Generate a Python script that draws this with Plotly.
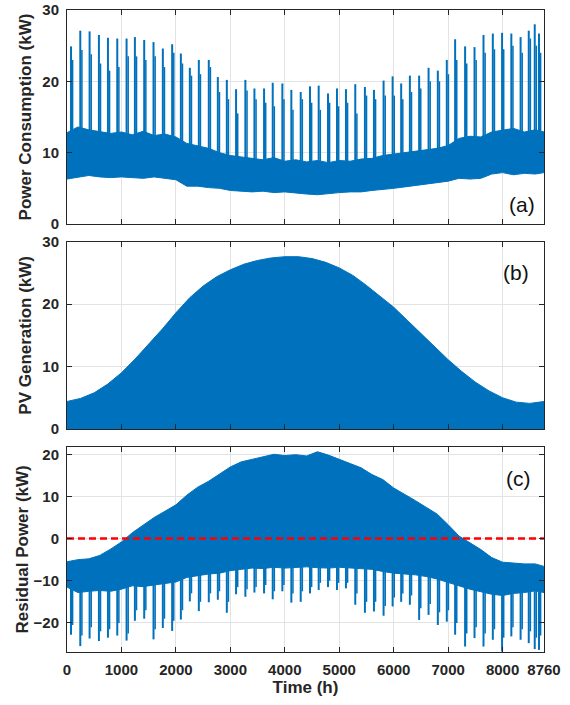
import plotly.graph_objects as go

# ---------------- data ----------------
# envelope sample times (h)
ENV_T = [0, 200, 400, 600, 800, 1000, 1200, 1400, 1600, 1800, 2000, 2200, 2400,
         2600, 2800, 3000, 3200, 3400, 3600, 3800, 4000, 4200, 4400, 4600, 4800,
         5000, 5200, 5400, 5600, 5800, 6000, 6200, 6400, 6600, 6800, 7000, 7200,
         7400, 7600, 7800, 8000, 8200, 8400, 8600, 8760]

# (a) power consumption: dense band (kW)
LOAD_LOW = [6.3, 6.5, 6.8, 6.6, 6.5, 6.6, 6.5, 6.4, 6.6, 6.4, 6.2, 5.3, 5.3,
            5.1, 5.0, 4.7, 4.6, 4.5, 4.6, 4.4, 4.5, 4.3, 4.2, 4.1, 4.3,
            4.4, 4.5, 4.5, 4.7, 4.8, 5.0, 5.2, 5.4, 5.6, 5.8, 6.0, 6.4,
            6.3, 6.4, 7.0, 7.2, 6.9, 7.1, 7.0, 7.2]
LOAD_HIGH = [12.8, 13.6, 13.2, 13.0, 12.7, 12.9, 12.5, 13.0, 12.4, 12.6, 12.2, 11.3, 11.0,
             10.6, 10.0, 9.6, 9.4, 9.2, 9.0, 9.3, 8.8, 9.0, 8.7, 8.9, 8.6,
             8.9, 8.8, 9.1, 9.2, 9.6, 9.8, 10.0, 10.1, 10.4, 10.6, 11.0, 12.0,
             12.3, 12.2, 12.9, 13.1, 13.4, 12.9, 13.2, 12.9]

# weekly peak events (h)
SPIKE_T = [73, 244, 415, 586, 752, 923, 1094, 1247, 1418, 1589,
           1760, 1931, 2091, 2256, 2421, 2604, 2770, 2935, 3105, 3276,
           3442, 3619, 3778, 3955, 4120, 4292, 4463, 4622, 4793, 4958,
           5123, 5294, 5471, 5637, 5814, 5980, 6137, 6297, 6467, 6640,
           6810, 6975, 7128, 7311, 7484, 7649, 7820, 7990, 8160, 8330,
           8480, 8590, 8668]
LOAD_PEAK = [24.9, 27.1, 27.0, 26.5, 26.1, 26.0, 26.0, 26.2, 25.8, 25.5,
             24.6, 25.2, 23.9, 21.9, 23.0, 23.0, 20.6, 20.2, 18.9, 20.2,
             19.0, 19.0, 19.8, 19.7, 18.8, 18.5, 19.3, 19.4, 18.3, 19.0,
             18.9, 19.6, 19.2, 18.8, 20.1, 20.7, 19.7, 20.8, 20.8, 21.9,
             21.5, 23.0, 25.9, 24.9, 24.8, 26.5, 26.7, 26.8, 26.7, 26.2,
             27.1, 28.0, 26.7]
LOAD_PEAK2 = [23.0, 24.4, 23.8, 22.5, 21.5, 22.0, 23.5, 23.5, 23.0, 23.5,
              22.0, 24.0, 22.5, 20.8, 21.0, 22.0, 18.5, 17.5, 15.5, 18.7,
              17.5, 17.0, 16.5, 17.5, 16.0, 17.5, 17.0, 16.0, 17.0, 16.5,
              17.0, 15.5, 18.0, 17.5, 18.0, 18.0, 17.5, 18.5, 19.0, 20.0,
              20.0, 21.0, 23.0, 22.5, 23.0, 24.0, 24.5, 24.5, 25.0, 24.0,
              26.0, 25.0, 24.0]

# (b) PV generation envelope (kW)
PV_T = [0, 250, 500, 750, 1000, 1250, 1500, 1750, 2000, 2250, 2500, 2750,
        3000, 3250, 3500, 3750, 4000, 4250, 4500, 4750, 5000, 5250, 5500,
        5750, 6000, 6250, 6500, 6750, 7000, 7250, 7500, 7750, 8000, 8250,
        8500, 8760]
PV_MAX = [4.4, 4.9, 5.8, 7.2, 9.0, 11.2, 13.6, 16.0, 18.6, 21.0, 22.9, 24.4,
          25.5, 26.4, 27.0, 27.4, 27.6, 27.6, 27.3, 26.7, 25.8, 24.6, 23.0,
          21.3, 19.5, 17.4, 15.3, 13.1, 11.1, 9.2, 7.5, 6.1, 5.0, 4.3,
          4.1, 4.4]

# (c) residual power: dense band (kW)
RES_HIGH = [-5.5, -5.0, -4.8, -4.0, -2.5, -0.8, 1.4, 3.2, 5.0, 6.5, 8.0, 10.3, 12.2,
            13.6, 15.3, 17.0, 18.2, 18.8, 19.5, 20.0, 19.7, 19.9, 19.6, 20.6, 19.8,
            18.8, 17.8, 16.8, 15.2, 14.0, 12.0, 10.6, 9.0, 7.4, 5.8, 3.3, 0.6,
            -1.0, -2.6, -4.5, -5.6, -5.8, -6.0, -6.0, -6.6]
RES_LOW = [-11.5, -12.8, -12.5, -12.3, -12.5, -12.0, -11.2, -11.4, -11.0, -10.6, -10.3, -9.2, -8.8,
           -8.4, -8.2, -7.6, -7.3, -7.0, -7.1, -6.8, -7.0, -6.8, -6.7, -6.9, -7.0,
           -6.8, -7.0, -7.2, -7.3, -7.8, -8.2, -8.4, -8.6, -9.0, -9.6, -10.4, -11.2,
           -12.0, -12.6, -13.2, -13.5, -13.0, -12.8, -12.4, -12.8]
RES_DIP = [-22.8, -25.5, -23.7, -24.3, -23.5, -23.0, -24.2, -19.5, -19.0, -23.9,
           -21.2, -21.9, -19.2, -14.9, -17.2, -15.1, -14.5, -17.6, -13.2, -13.8,
           -12.8, -13.0, -14.4, -12.5, -15.2, -15.0, -13.0, -12.2, -11.5, -12.2,
           -11.8, -15.7, -17.6, -17.3, -18.3, -16.1, -15.0, -15.7, -19.3, -18.1,
           -20.5, -19.7, -22.8, -25.6, -23.6, -25.6, -24.0, -26.8, -23.2, -24.0,
           -24.8, -26.2, -26.4]
RES_DIP2 = [-20.5, -23.0, -21.0, -22.0, -21.5, -20.0, -22.5, -17.0, -17.0, -21.5,
            -19.0, -19.5, -17.0, -13.0, -15.0, -13.0, -12.5, -15.0, -11.5, -12.0,
            -11.5, -11.0, -12.5, -11.0, -13.0, -12.5, -11.5, -10.5, -10.0, -10.5,
            -10.5, -13.0, -15.0, -15.0, -16.0, -14.0, -13.0, -13.5, -16.5, -15.5,
            -17.5, -17.0, -20.0, -22.5, -21.0, -22.5, -21.5, -23.5, -21.0, -21.5,
            -22.0, -23.5, -23.0]

ZERO_X = [0, 8760]
ZERO_Y = [0, 0]

X_TICKS = [0, 1000, 2000, 3000, 4000, 5000, 6000, 7000, 8000, 8760]

# ---------------- styling ----------------
BLUE = "#0072BD"
AX = "#262626"
GRID = "#e3e3e3"
FONT = "Liberation Sans, Arial, sans-serif"
SPIKE_BASE_A = 8.0
SPIKE_BASE_C = -6.5
PAIR_GAP = 30  # h between the two lines of a peak event

fig = go.Figure()


def add_band(xa, ya, lo, hi):
    fig.add_trace(go.Scatter(x=ENV_T, y=lo, xaxis=xa, yaxis=ya, mode="lines",
                             line=dict(color=BLUE, width=1), hoverinfo="skip",
                             showlegend=False))
    fig.add_trace(go.Scatter(x=ENV_T, y=hi, xaxis=xa, yaxis=ya, mode="lines",
                             line=dict(color=BLUE, width=1), fill="tonexty",
                             fillcolor=BLUE, hoverinfo="skip", showlegend=False))


def add_spikes(xa, ya, times, tips, base, shift, width):
    xs, ys = [], []
    for t, v in zip(times, tips):
        xs += [t + shift, t + shift, None]
        ys += [base, v, None]
    fig.add_trace(go.Scatter(x=xs, y=ys, xaxis=xa, yaxis=ya, mode="lines",
                             line=dict(color=BLUE, width=width), hoverinfo="skip",
                             showlegend=False, connectgaps=False))


# (a)
add_band("x", "y", LOAD_LOW, LOAD_HIGH)
add_spikes("x", "y", SPIKE_T, LOAD_PEAK2, SPIKE_BASE_A, PAIR_GAP, 1.5)
add_spikes("x", "y", SPIKE_T, LOAD_PEAK, SPIKE_BASE_A, 0, 2.0)

# (b)
fig.add_trace(go.Scatter(x=PV_T, y=PV_MAX, xaxis="x2", yaxis="y2", mode="lines",
                         line=dict(color=BLUE, width=1), fill="tozeroy",
                         fillcolor=BLUE, hoverinfo="skip", showlegend=False))

# (c)
add_band("x3", "y3", RES_LOW, RES_HIGH)
add_spikes("x3", "y3", SPIKE_T, RES_DIP2, SPIKE_BASE_C, PAIR_GAP, 1.5)
add_spikes("x3", "y3", SPIKE_T, RES_DIP, SPIKE_BASE_C, 0, 2.0)
fig.add_trace(go.Scatter(x=ZERO_X, y=ZERO_Y, xaxis="x3", yaxis="y3", mode="lines",
                         line=dict(color="#ff0000", width=2.5, dash="7px,4px"),
                         hoverinfo="skip", showlegend=False))

tickfont = dict(family=FONT, size=15, color=AX, weight="bold")
titlefont = dict(family=FONT, size=17, color=AX, weight="bold")


def xaxis(anchor, labels):
    return dict(domain=[0, 1], anchor=anchor, range=[0, 8760], tickvals=X_TICKS,
                ticktext=[str(v) for v in X_TICKS], showticklabels=labels,
                showgrid=True, gridcolor=GRID, gridwidth=1, zeroline=False,
                showline=True, linecolor=AX, linewidth=1, mirror="ticks",
                ticks="inside", ticklen=5, tickcolor=AX, tickfont=tickfont,
                automargin=False)


def yaxis(anchor, dom, rng, ticks, title, standoff):
    return dict(domain=dom, anchor=anchor, range=rng, tickvals=ticks,
                showgrid=True, gridcolor=GRID, gridwidth=1, zeroline=False,
                showline=True, linecolor=AX, linewidth=1, mirror="ticks",
                ticks="inside", ticklen=5, tickcolor=AX, tickfont=tickfont,
                ticklabelstandoff=4, automargin=False,
                title=dict(text=title, font=titlefont, standoff=standoff))


x3 = xaxis("y3", True)
x3["title"] = dict(text="Time (h)", font=titlefont, standoff=2)
x3["ticklabelstandoff"] = 4

LABEL_FONT = dict(family=FONT, size=21, color="#111111")

fig.update_layout(
    width=570, height=705,
    margin=dict(l=67, r=26, t=10, b=53),
    paper_bgcolor="white", plot_bgcolor="white",
    font=dict(family=FONT, color=AX),
    xaxis=xaxis("y", False),
    xaxis2=xaxis("y2", False),
    xaxis3=x3,
    yaxis=yaxis("x", [0.6667, 1.0], [0, 30], [0, 10, 20, 30],
                "Power Consumption (kW)", 6),
    yaxis2=yaxis("x2", [0.3474, 0.6391], [0, 30], [0, 10, 20, 30],
                 "PV Generation (kW)", 6),
    yaxis3=yaxis("x3", [0.0, 0.3198], [-26.9, 21.8], [-20, -10, 0, 10, 20],
                 "Residual Power (kW)", 0),
    shapes=[
        dict(type="rect", xref="x2", yref="y2", x0=7900, x1=8760,
             y0=22.8, y1=30, fillcolor="white", line=dict(width=0), layer="below"),
        dict(type="rect", xref="x3", yref="y3", x0=7900, x1=8760,
             y0=10.8, y1=21.8, fillcolor="white", line=dict(width=0), layer="below"),
    ],
    annotations=[
        dict(text="(a)", xref="x domain", yref="y domain", x=0.953, y=0.093,
             xanchor="center", yanchor="middle", showarrow=False, font=LABEL_FONT),
        dict(text="(b)", xref="x2 domain", yref="y2 domain", x=0.941, y=0.833,
             xanchor="center", yanchor="middle", showarrow=False, font=LABEL_FONT),
        dict(text="(c)", xref="x3 domain", yref="y3 domain", x=0.946, y=0.843,
             xanchor="center", yanchor="middle", showarrow=False, font=LABEL_FONT),
    ],
)

# remove the browser's default page margin so the figure sits at the window origin
fig.write_html("out.html", config={"displayModeBar": False},
               post_script="document.body.style.margin='0';")
